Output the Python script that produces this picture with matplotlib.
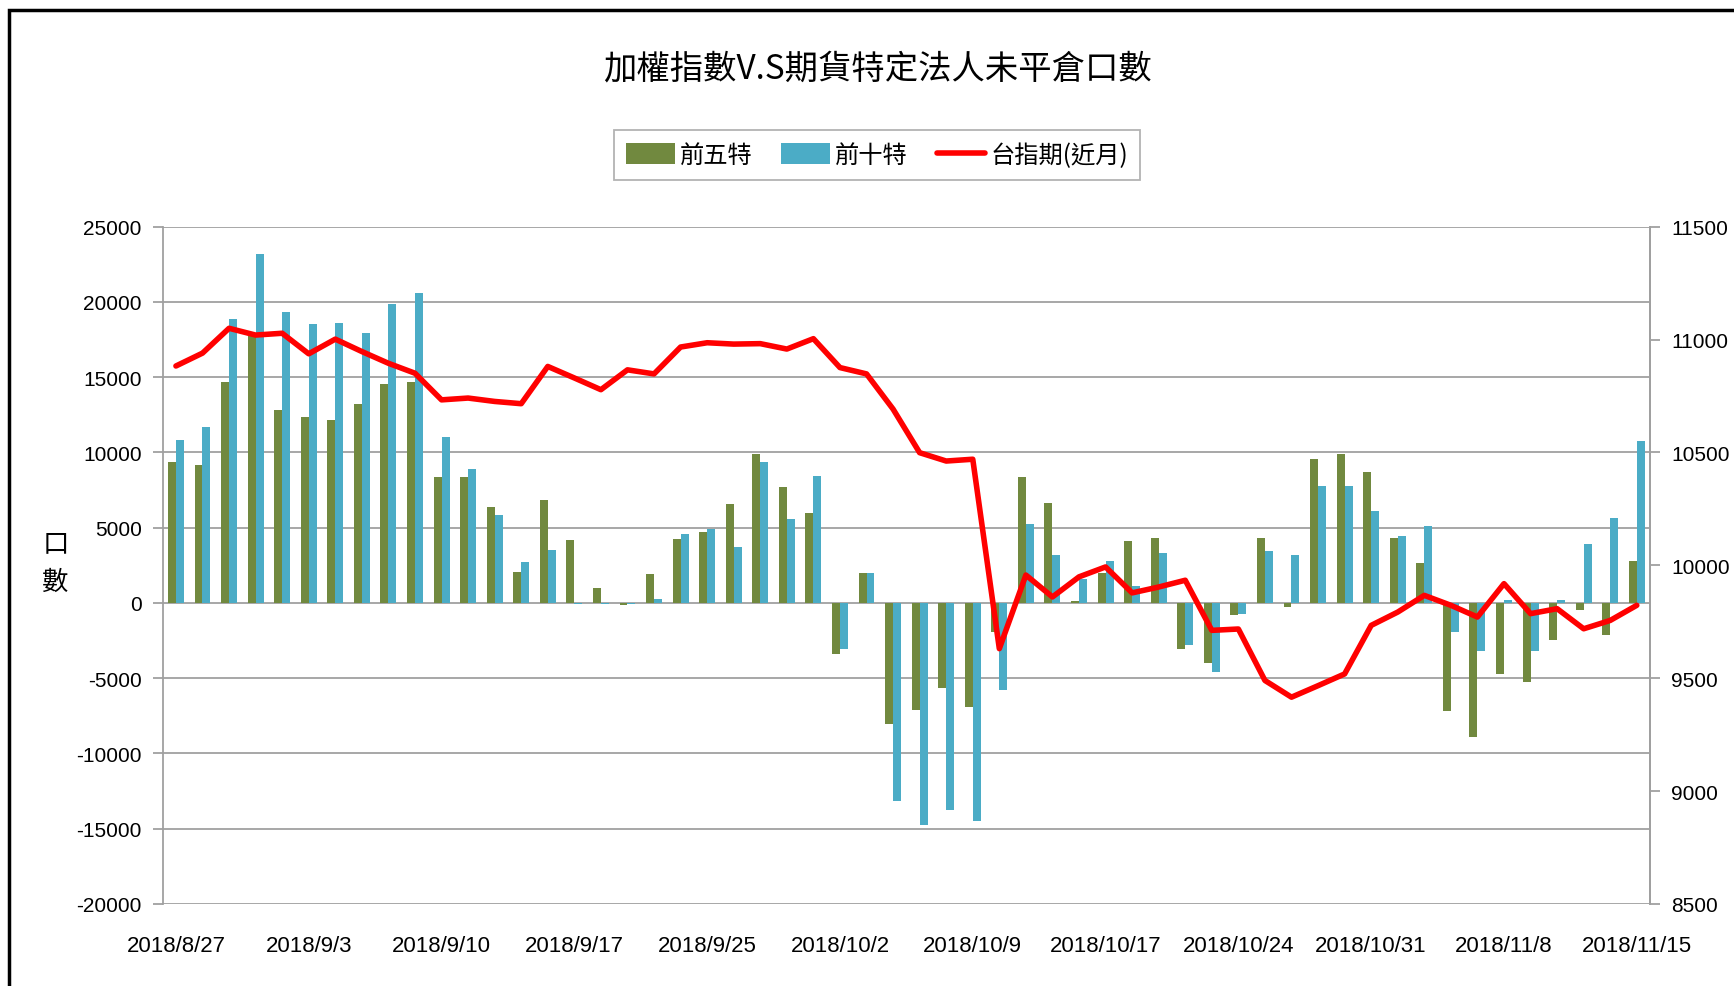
import numpy as np
import matplotlib
matplotlib.use("Agg")
import matplotlib.pyplot as plt
from matplotlib import font_manager
from matplotlib.patches import Rectangle

# ---------------- data ----------------
tick_labels = ["2018/8/27", "2018/9/3", "2018/9/10", "2018/9/17", "2018/9/25",
               "2018/10/2", "2018/10/9", "2018/10/17", "2018/10/24",
               "2018/10/31", "2018/11/8", "2018/11/15"]

top5 = [9360, 9140, 14660, 17850, 12800, 12360, 12130, 13240, 14570, 14660,
        8390, 8390, 6390, 2060, 6810, 4170, 1020, -150, 1900, 4240,
        4710, 6560, 9920, 7690, 6010, -3360, 2010, -8020, -7110, -5680,
        -6890, -1930, 8360, 6670, 130, 2000, 4130, 4330, -3070, -3960,
        -820, 4330, -270, 9560, 9910, 8670, 4330, 2670, -7160, -8880,
        -4710, -5270, -2490, -490, -2160, 2780]

top10 = [10800, 11690, 18880, 23180, 19300, 18550, 18630, 17970, 19850, 20610,
         11030, 8920, 5830, 2730, 3510, -100, -100, -50, 250, 4570,
         4930, 3690, 9340, 5570, 8430, -3030, 2010, -13170, -14740, -13750,
         -14490, -5790, 5240, 3220, 1560, 2780, 1110, 3330, -2820, -4600,
         -710, 3440, 3220, 7780, 7780, 6110, 4440, 5110, -1960, -3160,
         220, -3160, 220, 3890, 5670, 10780]

taiex_fut = [10883, 10940, 11050, 11020, 11028, 10937, 11002, 10947, 10895, 10851,
             10733, 10741, 10726, 10716, 10881, 10830, 10778, 10866, 10848, 10967,
             10986, 10980, 10982, 10958, 11004, 10876, 10848, 10692, 10499, 10462,
             10470, 9631, 9957, 9860, 9949, 9993, 9878, 9904, 9934, 9712,
             9718, 9490, 9416, 9467, 9519, 9734, 9793, 9867, 9823, 9771,
             9919, 9786, 9808, 9719, 9756, 9823]

# ---------------- fonts ----------------
installed = {f.name for f in font_manager.fontManager.ttflist}
narrow = "Liberation Sans Narrow" in installed
num_font = "Liberation Sans Narrow" if narrow else "Liberation Sans"
num_size = 19 if narrow else 15
x_size = 19 if narrow else 16
cjk = ["Noto Sans CJK TC", "DejaVu Sans"]
plt.rcParams["font.family"] = cjk
plt.rcParams["axes.unicode_minus"] = False

green = "#71893F"
blue = "#4BACC6"
red = "#FF0000"
grid_c = "#A0A0A0"

x = np.arange(len(top5))
w = 0.3

fig = plt.figure(figsize=(17.34, 9.87), dpi=100)
ax = fig.add_axes([0.0938, 0.0831, 0.8578, 0.6862])

ax.bar(x - w / 2, top5, width=w, color=green, label="前五特", zorder=2)
ax.bar(x + w / 2, top10, width=w, color=blue, label="前十特", zorder=2)

ax.set_xlim(-0.5, len(x) - 0.5)
ax.set_ylim(-20000, 25000)
ax.set_yticks(np.arange(-20000, 25001, 5000))
ax.yaxis.grid(True, color=grid_c, linewidth=1.3, zorder=0)
ax.set_axisbelow(True)
for s in ["top", "bottom"]:
    ax.spines[s].set_visible(False)
for s in ["left", "right"]:
    ax.spines[s].set_color(grid_c)
    ax.spines[s].set_linewidth(1.3)

ax.set_xticks(x[::5])
ax.set_xticklabels(tick_labels, fontfamily=num_font, fontsize=x_size)
ax.tick_params(axis="x", length=0, pad=22)
ax.tick_params(axis="y", length=7, width=1.3, color=grid_c, pad=8,
               labelsize=num_size)
for lab in ax.get_yticklabels():
    lab.set_fontfamily(num_font)

ax2 = ax.twinx()
ax2.plot(x, taiex_fut, color=red, linewidth=4, solid_joinstyle="round",
         solid_capstyle="round", label="台指期(近月)")
ax2.set_ylim(8500, 11500)
ax2.set_yticks(np.arange(8500, 11501, 500))
for s in ["top", "bottom", "left"]:
    ax2.spines[s].set_visible(False)
ax2.spines["right"].set_color(grid_c)
ax2.spines["right"].set_linewidth(1.3)
ax2.tick_params(axis="y", length=7, width=1.3, color=grid_c, pad=8,
                labelsize=num_size)
for lab in ax2.get_yticklabels():
    lab.set_fontfamily(num_font)

# y label, stacked characters
fig.text(0.032, 0.43, "口\n數", fontsize=19, ha="center", va="center",
         linespacing=1.55)

# title
fig.text(0.5058, 0.93, "加權指數V.S期貨特定法人未平倉口數", fontsize=24,
         ha="center", va="center")

# legend
h1, l1 = ax.get_legend_handles_labels()
h2, l2 = ax2.get_legend_handles_labels()
leg = fig.legend(h1 + h2, l1 + l2, loc="center", bbox_to_anchor=(0.5058, 0.842),
                 ncol=3, fontsize=17.5, frameon=True, fancybox=False,
                 edgecolor="#A0A0A0", handlelength=2.0, handleheight=0.9,
                 handletextpad=0.2, columnspacing=1.2, borderpad=0.5)
leg.get_frame().set_linewidth(1.3)

# outer black frame (right/bottom run off the image)
fig.patches.append(Rectangle((9 / 1734, -0.1), 1.2, 1 - 11 / 987 + 0.1,
                             transform=fig.transFigure, fill=False,
                             edgecolor="black", linewidth=2.5))

fig.savefig("out.png", dpi=100)
